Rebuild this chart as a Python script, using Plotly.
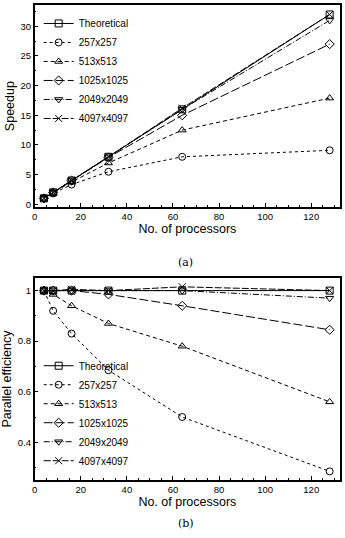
import plotly.graph_objects as go

processors = [4, 8, 16, 32, 64, 128]
series_names = ["Theoretical", "257x257", "513x513", "1025x1025", "2049x2049", "4097x4097"]

speedup_theoretical = [1, 2, 4, 8, 16, 32]
speedup_257 = [1, 1.84, 3.32, 5.48, 8.0, 9.1]
speedup_513 = [1, 1.97, 3.76, 6.96, 12.5, 17.9]
speedup_1025 = [1, 2.0, 4.0, 7.9, 15.0, 27.0]
speedup_2049 = [1, 2.0, 4.0, 8.0, 16.0, 31.0]
speedup_4097 = [1, 2.0, 4.02, 8.0, 16.2, 32.0]

eff_theoretical = [1, 1, 1, 1, 1, 1]
eff_257 = [1, 0.92, 0.83, 0.685, 0.50, 0.285]
eff_513 = [1, 0.985, 0.94, 0.87, 0.78, 0.56]
eff_1025 = [1, 1.0, 1.0, 0.985, 0.94, 0.845]
eff_2049 = [1, 1.0, 1.0, 1.0, 1.0, 0.97]
eff_4097 = [1, 1.0, 1.005, 1.0, 1.015, 1.0]

speedups = [speedup_theoretical, speedup_257, speedup_513, speedup_1025, speedup_2049, speedup_4097]
effs = [eff_theoretical, eff_257, eff_513, eff_1025, eff_2049, eff_4097]

styles = [
    ("solid", "square-open"),
    ("dot", "circle-open"),
    ("4px,3px", "triangle-up-open"),
    ("9px,3px", "diamond-open"),
    ("6px,2px,1px,2px", "triangle-down-open"),
    ("7px,2px", "x-thin-open"),
]

W, H = 345, 538
fig = go.Figure()

for name, ys, (dash, sym) in zip(series_names, speedups, styles):
    fig.add_trace(go.Scatter(
        x=processors, y=ys, name=name, mode="lines+markers",
        line=dict(color="black", width=1, dash=dash),
        marker=dict(symbol=sym, size=7, color="black", line=dict(color="black", width=1)),
        xaxis="x", yaxis="y", legend="legend"))

for name, ys, (dash, sym) in zip(series_names, effs, styles):
    fig.add_trace(go.Scatter(
        x=processors, y=ys, name=name, mode="lines+markers",
        line=dict(color="black", width=1, dash=dash),
        marker=dict(symbol=sym, size=7, color="black", line=dict(color="black", width=1)),
        xaxis="x2", yaxis="y2", legend="legend2"))

xd = [32 / W, 340 / W]
d1 = [1 - 208 / H, 1 - 5 / H]
d2 = [1 - 482 / H, 1 - 279 / H]

tickfont = dict(family="Liberation Sans, Arial, sans-serif", size=9.5, color="black")
titlefont = dict(family="Liberation Sans, Arial, sans-serif", size=12.5, color="black")

def xaxis(anchor):
    return dict(domain=xd, anchor=anchor, range=[0, 132.5], dtick=20, tick0=0,
                ticks="inside", ticklen=4, tickwidth=1, tickcolor="black",
                minor=dict(dtick=5, ticks="inside", ticklen=2, tickcolor="black"),
                showline=True, linecolor="black", linewidth=1.5, mirror=True,
                showgrid=False, zeroline=False, tickfont=tickfont,
                title=dict(text="No. of processors", font=titlefont, standoff=3))

legend_common = dict(bgcolor="rgba(0,0,0,0)",
                     font=dict(family="Liberation Sans, Arial, sans-serif", size=10, color="black"),
                     itemwidth=30, tracegroupgap=0, borderwidth=0)

fig.update_layout(
    width=W, height=H, margin=dict(l=0, r=0, t=0, b=0),
    paper_bgcolor="white", plot_bgcolor="white",
    font=dict(family="Liberation Sans, Arial, sans-serif", color="black"),
    xaxis=xaxis("y"),
    yaxis=dict(domain=d1, anchor="x", range=[-0.5, 33.6], dtick=5, tick0=0,
               ticks="inside", ticklen=4, tickcolor="black",
               minor=dict(dtick=2.5, ticks="inside", ticklen=2, tickcolor="black"),
               showline=True, linecolor="black", linewidth=1.5, mirror=True,
               showgrid=False, zeroline=False, tickfont=tickfont,
               title=dict(text="Speedup", font=titlefont, standoff=3)),
    xaxis2=xaxis("y2"),
    yaxis2=dict(domain=d2, anchor="x2", range=[0.25, 1.05], dtick=0.2, tick0=0,
                ticks="inside", ticklen=4, tickcolor="black",
                minor=dict(dtick=0.1, ticks="inside", ticklen=2, tickcolor="black"),
                showline=True, linecolor="black", linewidth=1.5, mirror=True,
                showgrid=False, zeroline=False, tickfont=tickfont,
                tickformat="~g",
                title=dict(text="Parallel efficiency", font=titlefont, standoff=3)),
    legend=dict(x=36 / W, y=1 - 9 / H, xanchor="left", yanchor="top", **legend_common),
    legend2=dict(x=36 / W, y=1 - 477 / H, xanchor="left", yanchor="bottom", **legend_common),
    showlegend=True,
    annotations=[
        dict(text="(a)", x=0.535, y=1 - 263 / H, xref="paper", yref="paper",
             showarrow=False, font=dict(family="DejaVu Serif, Liberation Serif, serif", size=11)),
        dict(text="(b)", x=0.535, y=1 - 534 / H, xref="paper", yref="paper",
             showarrow=False, font=dict(family="DejaVu Serif, Liberation Serif, serif", size=11)),
    ],
)

fig.write_html("out.html")
